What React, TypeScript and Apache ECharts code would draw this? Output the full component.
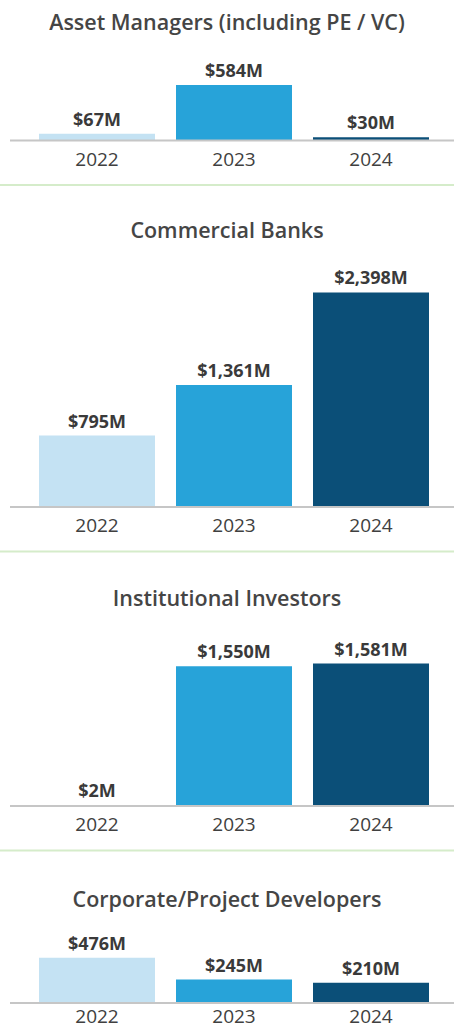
import React, { useEffect, useRef } from "react";
import * as echarts from "echarts";

const years = ["2022", "2023", "2024"];
const panelTitles = [
  "Asset Managers (including PE / VC)",
  "Commercial Banks",
  "Institutional Investors",
  "Corporate/Project Developers",
];
const assetManagers = [67, 584, 30];
const commercialBanks = [795, 1361, 2398];
const institutionalInvestors = [2, 1550, 1581];
const corporateDevelopers = [476, 245, 210];
const panelValues = [assetManagers, commercialBanks, institutionalInvestors, corporateDevelopers];
const yearColors = ["#c4e2f3", "#27a3d9", "#0b4f78"];

// layout (px): baseline of each panel, bar area height, axis max, title center, separator y
const layout = [
  { base: 140, h: 60, max: 636, titleY: 20, sepY: 185 },
  { base: 506.5, h: 220, max: 2464, titleY: 228, sepY: 551.5 },
  { base: 805.5, h: 150, max: 1671, titleY: 596, sepY: 850.5 },
  { base: 1002.5, h: 55, max: 586, titleY: 897, sepY: null as number | null },
];

const FONT = "'Open Sans', 'Noto Sans', sans-serif";

function fmt(v: number) {
  return "$" + v.toLocaleString("en-US") + "M";
}

export default function App() {
  const ref = useRef<HTMLDivElement>(null);
  useEffect(() => {
    if (!ref.current) return;
    const chart = echarts.init(ref.current, null, { renderer: "svg" });
    const W = 454;
    const gridLeft = 28.5;
    const gridRight = 14.5;

    const grids = layout.map((l) => ({
      left: gridLeft,
      right: gridRight,
      top: l.base - l.h,
      height: l.h,
      containLabel: false,
    }));
    const xAxes = layout.map((l, i) => ({
      type: "category",
      gridIndex: i,
      data: years,
      axisLine: { show: false },
      axisTick: { show: false },
      axisLabel: {
        color: "#404040",
        fontFamily: FONT,
        fontSize: 19,
        margin: i === 3 ? 4 : 9,
      },
    }));
    const yAxes = layout.map((l, i) => ({
      type: "value",
      gridIndex: i,
      min: 0,
      max: l.max,
      show: false,
      splitLine: { show: false },
    }));
    const series = panelValues.map((vals, i) => ({
      type: "bar",
      xAxisIndex: i,
      yAxisIndex: i,
      barWidth: 116,
      data: vals.map((v, j) => ({
        value: v,
        itemStyle: { color: yearColors[j] },
      })),
      label: {
        show: true,
        position: "top",
        distance: 6,
        formatter: (p: any) => fmt(p.value),
        color: "#3a3a3a",
        fontFamily: FONT,
        fontSize: 18,
        fontWeight: "bold",
      },
    }));
    const titles = panelTitles.map((t, i) => ({
      text: t,
      left: "center",
      top: layout[i].titleY - 15,
      textStyle: {
        color: "#454545",
        fontFamily: FONT,
        fontSize: 21.5,
        fontWeight: 600,
      },
    }));
    const graphics: any[] = [];
    layout.forEach((l) => {
      graphics.push({
        type: "line",
        shape: { x1: 10, y1: l.base + 0.5, x2: W, y2: l.base + 0.5 },
        style: { stroke: "#c6c6c6", lineWidth: 2 },
        z: 10,
      });
      if (l.sepY !== null) {
        graphics.push({
          type: "line",
          shape: { x1: 0, y1: l.sepY, x2: W, y2: l.sepY },
          style: { stroke: "#d5ecca", lineWidth: 2 },
        });
      }
    });

    chart.setOption({
      animation: false,
      backgroundColor: "#ffffff",
      title: titles,
      grid: grids,
      xAxis: xAxes,
      yAxis: yAxes,
      series,
      graphic: graphics,
    } as any);
    return () => chart.dispose();
  }, []);
  return (
    <div
      ref={ref}
      style={{ position: "absolute", left: 0, top: 0, width: 454, height: 1029 }}
    />
  );
}
